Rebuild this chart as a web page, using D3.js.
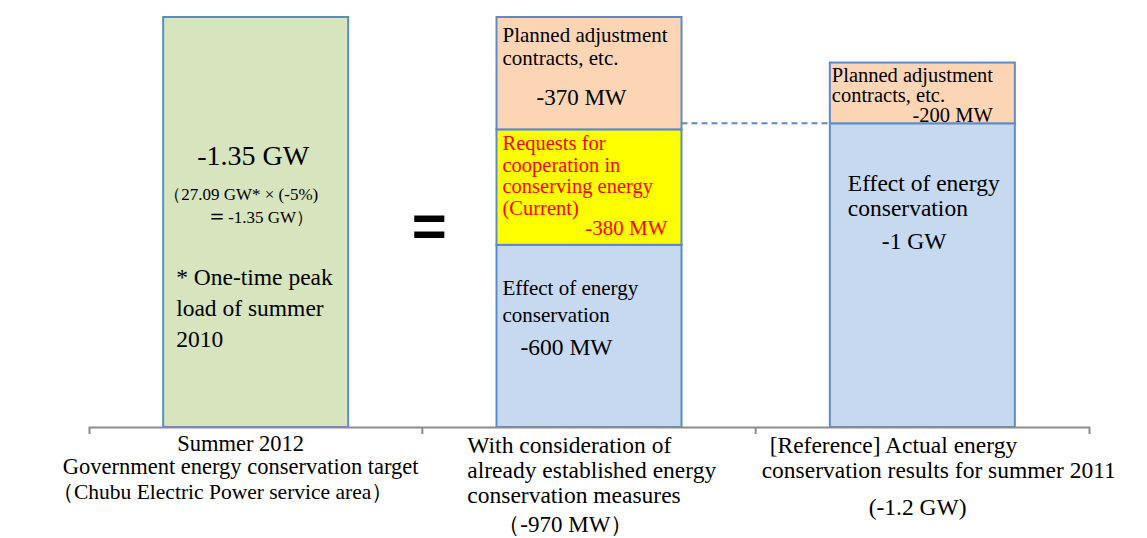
<!DOCTYPE html>
<html>
<head>
<meta charset="utf-8">
<script src="https://cdn.jsdelivr.net/npm/d3@7"></script>
<style>
  html, body { margin: 0; padding: 0; background: #fff; }
  svg { display: block; }
  text { font-family: "Liberation Serif", "Times New Roman", serif; fill: #000; }
</style>
</head>
<body>
<div id="chart"></div>
<script>
// categories (one per column)
const categories = ["target2012", "measures", "actual2011"];

// stacked values in MW, bottom to top
const governmentTarget = [1350, 0, 0];
const conservationEffect = [0, 600, 1000];
const cooperationRequests = [0, 380, 0];
const plannedAdjustment = [0, 370, 200];

const seriesKeys = ["target", "effect", "requests", "planned"];
const seriesColors = {
  target: "#d7e4bd",
  effect: "#c6d9f1",
  requests: "#ffff00",
  planned: "#fcd5b5"
};

// category labels under the axis
const categoryLabels = [
  ["Summer 2012", "Government energy conservation target", "（Chubu Electric Power service area）"],
  ["With consideration of", "already established energy", "conservation measures", "（-970 MW）"],
  ["[Reference] Actual energy", "conservation results for summer 2011", "(-1.2 GW)"]
];

const W = 1147, H = 538;
const BORDER = "#5b8bc9";

const svg = d3.select("#chart").append("svg")
  .attr("width", W).attr("height", H);

const rows = categories.map((c, i) => ({
  cat: c,
  target: governmentTarget[i],
  effect: conservationEffect[i],
  requests: cooperationRequests[i],
  planned: plannedAdjustment[i]
}));

const stacked = d3.stack().keys(seriesKeys)(rows);

const x = d3.scaleBand().domain(categories).range([89, 1089]).padding(0);
const barW = 185;
const barX = c => x(c) + (x.bandwidth() - barW) / 2;

const y = d3.scaleLinear().domain([0, 1350]).range([427, 17]);

// bars
const layer = svg.append("g").attr("class", "bars");
stacked.forEach(s => {
  layer.selectAll(null)
    .data(s.filter(d => d[1] > d[0]))
    .enter().append("rect")
    .attr("x", d => barX(d.data.cat))
    .attr("y", d => y(d[1]))
    .attr("width", barW)
    .attr("height", d => y(d[0]) - y(d[1]))
    .attr("fill", seriesColors[s.key])
    .attr("stroke", BORDER)
    .attr("stroke-width", 2);
});

// dashed connector between the two right bars
const joinY = y(conservationEffect[2]);
svg.append("line")
  .attr("x1", barX(categories[1]) + barW)
  .attr("x2", barX(categories[2]))
  .attr("y1", joinY).attr("y2", joinY)
  .attr("stroke", BORDER)
  .attr("stroke-width", 2)
  .attr("stroke-dasharray", "6,4");

// axis: a plain base line with ticks on the band edges
const axis = svg.append("g")
  .attr("transform", `translate(0,${y(0)})`)
  .call(d3.axisBottom(x).tickSize(0).tickSizeOuter(7).tickFormat(""));
axis.select(".domain").attr("stroke", "#8c8c8c").attr("stroke-width", 2);
axis.selectAll(".tick").remove();
axis.selectAll(null)
  .data(categories.slice(1))
  .enter().append("line")
  .attr("x1", d => x(d)).attr("x2", d => x(d))
  .attr("y1", 0).attr("y2", 7)
  .attr("stroke", "#8c8c8c").attr("stroke-width", 2);

// helper for text blocks
function addLines(lines, xPos, y0, step, size, opts = {}) {
  const t = svg.append("g");
  lines.forEach((ln, i) => {
    t.append("text")
      .attr("x", xPos)
      .attr("y", y0 + i * step)
      .attr("font-size", size)
      .attr("text-anchor", opts.anchor || "start")
      .style("fill", opts.color || "#000")
      .text(ln);
  });
  return t;
}

// column 1: government target
const L1 = barX(categories[0]);
const top1 = y(governmentTarget[0]);
addLines(["-1.35 GW"], L1 + 90, top1 + 148, 0, 28, { anchor: "middle" });
addLines(["（27.09 GW* × (-5%)"], L1 + 1, top1 + 183, 0, 17);
const eq = svg.append("text").attr("x", L1 + 43).attr("y", top1 + 206).attr("font-size", 17);
eq.append("tspan").attr("font-size", 22).text("＝");
eq.append("tspan").text("-1.35 GW）");
addLines(["* One-time peak", "load of summer", "2010"], L1 + 13, top1 + 268, 31, 23.5);

// column 2: stacked breakdown
const L2 = barX(categories[1]);
const planTop2 = y(governmentTarget[1] + conservationEffect[1] + cooperationRequests[1] + plannedAdjustment[1]);
addLines(["Planned adjustment", "contracts, etc."], L2 + 6, planTop2 + 25, 23, 21);
addLines(["-370 MW"], L2 + 40, planTop2 + 88, 0, 23);
const reqTop2 = y(conservationEffect[1] + cooperationRequests[1]);
addLines(["Requests for", "cooperation in", "conserving energy", "(Current)"], L2 + 6, reqTop2 + 21, 21.5, 20.5, { color: "#ff0000" });
addLines(["-380 MW"], L2 + 171, reqTop2 + 106, 0, 21, { anchor: "end", color: "#ff0000" });
const effTop2 = y(conservationEffect[1]);
addLines(["Effect of energy", "conservation"], L2 + 6, effTop2 + 50, 27, 21);
addLines(["-600 MW"], L2 + 24, effTop2 + 110, 0, 23.5);

// equals sign between column 1 and 2
svg.append("text")
  .attr("x", (L1 + barW + L2) / 2 + 7)
  .attr("y", 246)
  .attr("text-anchor", "middle")
  .attr("font-size", 60)
  .attr("font-weight", "bold")
  .style("font-family", "'Liberation Sans', Arial, sans-serif")
  .text("=");

// column 3: 2011 results
const L3 = barX(categories[2]);
const effTop3 = y(conservationEffect[2]);
addLines(["Planned adjustment", "contracts, etc."], L3 + 2, effTop3 - 41, 20, 20.5);
addLines(["-200 MW"], L3 + 163, effTop3 - 1, 0, 20.5, { anchor: "end" });
addLines(["Effect of energy", "conservation"], L3 + 18, effTop3 + 68, 25, 23.5);
addLines(["-1 GW"], L3 + 52, effTop3 + 126, 0, 23.5);

// category labels
const c0 = x(categories[0]) + x.bandwidth() / 2 - 15;
addLines(categoryLabels[0].slice(0, 2), c0, 451, 23, 22.5, { anchor: "middle" });
addLines([categoryLabels[0][2]], 52, 499, 0, 21.5);

const lx2 = x(categories[1]) + 45;
addLines(categoryLabels[1].slice(0, 3), lx2, 453, 25, 23.5);
addLines([categoryLabels[1][3]], lx2 + 30, 532, 0, 23);

const lx3 = x(categories[2]);
addLines([categoryLabels[2][0]], lx3 + 14, 453, 0, 23.5);
addLines([categoryLabels[2][1]], lx3 + 6, 478, 0, 23.5);
addLines([categoryLabels[2][2]], lx3 + 162, 515, 0, 23.5, { anchor: "middle" });
</script>
</body>
</html>
